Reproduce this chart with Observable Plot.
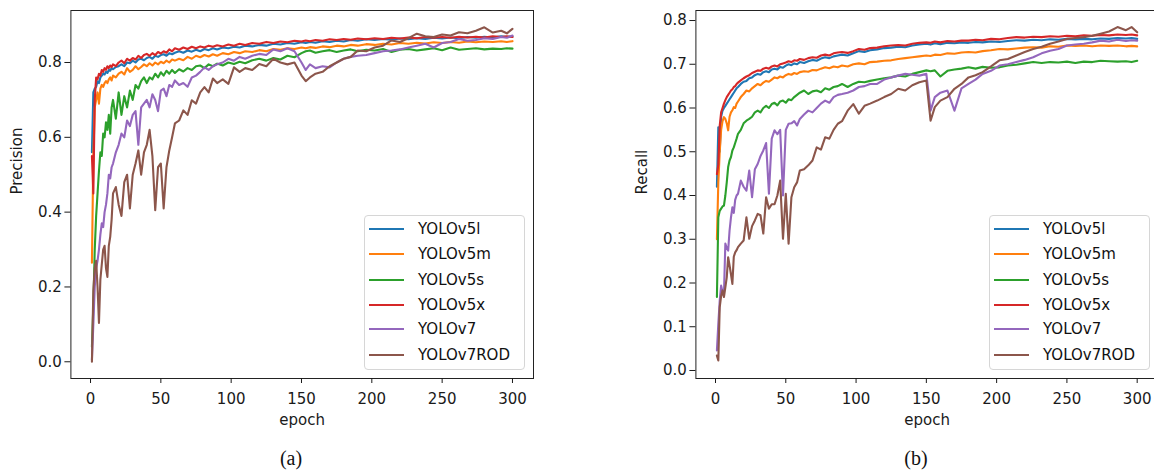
<!DOCTYPE html>
<html><head><meta charset="utf-8">
<script src="https://cdn.jsdelivr.net/npm/d3@7"></script>
<script src="https://cdn.jsdelivr.net/npm/@observablehq/plot@0.6"></script>
<style>
html,body{margin:0;padding:0;background:#fff;}
body{width:1154px;height:473px;overflow:hidden;position:relative;font-family:"DejaVu Sans",sans-serif;}
.panel{position:absolute;top:0;}
.panel svg{max-width:none !important;display:block;}
.legend{position:absolute;border:1px solid #d6d6d6;border-radius:4px;background:rgba(255,255,255,0.85);box-sizing:border-box;}
.row{position:absolute;left:0;height:0;}
.row .sw{position:absolute;left:4px;width:35px;border-top:2px solid;top:-1px;}
.row .lb{position:absolute;left:53px;top:-10px;font-size:15px;line-height:20px;color:#111;white-space:nowrap;}
.cap{position:absolute;font-family:"Liberation Serif",serif;font-size:20px;color:#111;transform:translate(-50%,-50%);}
</style></head>
<body>
<div id="root"></div>
<script>
const names = ["YOLOv5l","YOLOv5m","YOLOv5s","YOLOv5x","YOLOv7","YOLOv7ROD"];
const colors = ["#1f77b4","#ff7f0e","#2ca02c","#d62728","#9467bd","#8c564b"];
const xTicks = [0,50,100,150,200,250,300];
const precisionTicks = [0,0.2,0.4,0.6,0.8];
const recallTicks = [0,0.1,0.2,0.3,0.4,0.5,0.6,0.7,0.8];

const epochs = [1,2,3,4,5,6,7,8,9,10,11,12,13,14,15,16,
 18,20,22,24,26,28,30,32,34,36,38,40,42,44,46,48,50,52,54,56,58,60,
 63,66,69,72,75,78,81,84,87,90,
 94,98,102,106,110,
 115,120,125,130,135,140,145,150,
 153,156,
 160,165,170,175,180,185,190,
 196,202,208,214,220,226,232,238,244,250,256,262,268,274,280,286,292,
 296,300];

// Precision
const precV5l = [0.56,0.72,0.73,0.735,0.75,0.745,0.76,0.765,0.77,0.768,0.775,0.772,0.78,0.778,0.785,0.782,
 0.788,0.79,0.795,0.79,0.80,0.798,0.805,0.80,0.808,0.81,0.806,0.812,0.815,0.81,0.818,0.815,0.82,0.822,0.818,0.825,0.822,0.826,
 0.83,0.826,0.832,0.829,0.834,0.83,0.836,0.833,0.838,0.835,
 0.84,0.838,0.842,0.84,0.845,
 0.843,0.847,0.845,0.85,0.848,0.852,0.85,0.854,
 0.852,0.855,
 0.853,0.857,0.855,0.858,0.856,0.86,0.858,
 0.862,0.86,0.863,0.861,0.864,0.862,0.865,0.863,0.866,0.864,0.867,0.865,0.868,0.866,0.869,0.867,0.87,
 0.868,0.87];
const precV5m = [0.265,0.55,0.68,0.70,0.72,0.69,0.73,0.74,0.735,0.745,0.75,0.745,0.755,0.76,0.752,0.765,
 0.76,0.77,0.775,0.768,0.785,0.775,0.78,0.79,0.782,0.788,0.795,0.79,0.798,0.792,0.80,0.795,0.802,0.798,0.805,0.80,0.808,0.805,
 0.81,0.806,0.815,0.81,0.818,0.814,0.82,0.816,0.822,0.818,
 0.825,0.822,0.828,0.825,0.83,
 0.828,0.833,0.83,0.836,0.834,0.838,0.836,0.84,
 0.838,0.841,
 0.839,0.843,0.841,0.845,0.843,0.847,0.845,
 0.849,0.847,0.85,0.848,0.852,0.85,0.853,0.851,0.854,0.852,0.855,0.853,0.856,0.854,0.856,0.855,0.857,
 0.855,0.857];
const precV5s = [0.04,0.15,0.30,0.39,0.45,0.51,0.56,0.55,0.61,0.60,0.64,0.62,0.66,0.61,0.68,0.70,
 0.65,0.72,0.66,0.71,0.68,0.725,0.70,0.74,0.73,0.75,0.76,0.745,0.76,0.755,0.77,0.76,0.774,0.765,0.778,0.77,0.78,0.772,
 0.782,0.776,0.785,0.78,0.79,0.792,0.785,0.795,0.79,0.797,
 0.792,0.80,0.796,0.802,0.798,
 0.806,0.81,0.805,0.812,0.808,0.818,0.814,0.825,
 0.83,0.832,
 0.826,0.83,0.833,0.828,0.832,0.835,0.83,
 0.834,0.832,0.836,0.828,0.834,0.836,0.832,0.835,0.838,0.833,0.84,0.834,0.836,0.838,0.835,0.837,0.836,
 0.838,0.837];
const precV5x = [0.55,0.45,0.70,0.76,0.755,0.77,0.765,0.78,0.775,0.785,0.78,0.79,0.785,0.792,0.788,0.795,
 0.79,0.80,0.805,0.798,0.81,0.805,0.812,0.808,0.818,0.812,0.82,0.823,0.818,0.825,0.82,0.828,0.824,0.83,0.826,0.835,0.83,0.838,
 0.834,0.84,0.836,0.842,0.838,0.843,0.84,0.845,0.842,0.846,
 0.843,0.848,0.845,0.85,0.847,
 0.852,0.85,0.855,0.852,0.856,0.854,0.858,0.856,
 0.859,0.857,
 0.86,0.858,0.862,0.86,0.863,0.861,0.864,
 0.862,0.865,0.863,0.866,0.864,0.867,0.865,0.868,0.866,0.868,0.866,0.869,0.867,0.869,0.867,0.87,0.868,
 0.87,0.868];
const precV7 = [0.005,0.10,0.20,0.25,0.27,0.30,0.34,0.37,0.36,0.40,0.42,0.45,0.50,0.49,0.52,0.53,
 0.56,0.58,0.61,0.60,0.645,0.63,0.66,0.67,0.58,0.68,0.69,0.70,0.68,0.715,0.70,0.67,0.725,0.73,0.71,0.74,0.735,0.752,
 0.74,0.745,0.735,0.76,0.765,0.775,0.787,0.78,0.79,0.795,
 0.80,0.81,0.805,0.815,0.81,
 0.818,0.823,0.82,0.835,0.83,0.838,0.83,0.80,
 0.78,0.795,
 0.785,0.79,0.787,0.80,0.81,0.815,0.818,
 0.82,0.825,0.83,0.832,0.835,0.84,0.845,0.85,0.84,0.852,0.855,0.863,0.858,0.86,0.865,0.863,0.868,
 0.866,0.872];
const precV7ROD = [0.0,0.19,0.25,0.27,0.20,0.104,0.22,0.26,0.30,0.31,0.25,0.227,0.31,0.334,0.38,0.45,
 0.467,0.42,0.39,0.48,0.50,0.41,0.50,0.53,0.565,0.50,0.56,0.58,0.62,0.55,0.405,0.52,0.53,0.41,0.52,0.565,0.60,0.637,
 0.645,0.672,0.66,0.699,0.69,0.72,0.734,0.72,0.757,0.745,
 0.755,0.743,0.787,0.775,0.785,
 0.78,0.796,0.79,0.81,0.80,0.795,0.80,0.765,
 0.75,0.76,
 0.77,0.775,0.79,0.80,0.81,0.815,0.832,
 0.83,0.84,0.845,0.859,0.855,0.865,0.877,0.87,0.868,0.875,0.872,0.881,0.878,0.885,0.894,0.88,0.885,
 0.878,0.89];

// Recall
const recV5l = [0.42,0.556,0.50,0.58,0.594,0.60,0.605,0.61,0.615,0.62,0.625,0.63,0.635,0.64,0.645,0.648,
 0.655,0.66,0.662,0.668,0.67,0.675,0.678,0.676,0.682,0.684,0.682,0.688,0.69,0.688,0.694,0.692,0.697,0.70,0.698,0.702,0.70,0.705,
 0.703,0.707,0.71,0.708,0.713,0.716,0.714,0.718,0.72,0.722,
 0.72,0.725,0.73,0.728,0.732,
 0.734,0.737,0.738,0.74,0.739,0.743,0.745,0.747,
 0.745,0.748,
 0.746,0.749,0.748,0.75,0.749,0.751,0.75,
 0.752,0.751,0.753,0.755,0.754,0.756,0.755,0.757,0.756,0.758,0.757,0.758,0.757,0.759,0.758,0.76,0.759,
 0.76,0.758];
const recV5m = [0.30,0.43,0.50,0.55,0.57,0.579,0.575,0.565,0.549,0.58,0.59,0.595,0.602,0.60,0.61,0.615,
 0.625,0.632,0.64,0.638,0.645,0.65,0.655,0.652,0.658,0.662,0.66,0.665,0.67,0.668,0.672,0.67,0.675,0.678,0.676,0.68,0.678,0.682,
 0.684,0.683,0.687,0.686,0.69,0.693,0.691,0.695,0.693,0.697,
 0.695,0.70,0.702,0.70,0.705,
 0.706,0.708,0.709,0.712,0.714,0.716,0.718,0.72,
 0.719,0.722,
 0.721,0.725,0.724,0.727,0.728,0.727,0.73,
 0.732,0.735,0.734,0.736,0.738,0.739,0.738,0.741,0.74,0.743,0.742,0.743,0.741,0.743,0.742,0.743,0.741,
 0.742,0.741];
const recV5s = [0.168,0.35,0.365,0.37,0.375,0.377,0.40,0.43,0.465,0.48,0.488,0.503,0.51,0.52,0.53,0.541,
 0.55,0.565,0.571,0.575,0.58,0.59,0.594,0.59,0.60,0.605,0.60,0.609,0.612,0.606,0.615,0.617,0.612,0.62,0.618,0.625,0.63,0.635,
 0.64,0.632,0.638,0.64,0.636,0.645,0.642,0.648,0.65,0.655,
 0.648,0.655,0.66,0.659,0.662,
 0.665,0.668,0.67,0.674,0.672,0.678,0.682,0.686,
 0.684,0.686,
 0.672,0.685,0.688,0.69,0.693,0.69,0.694,
 0.692,0.693,0.697,0.699,0.702,0.705,0.703,0.705,0.704,0.706,0.703,0.706,0.705,0.708,0.707,0.706,0.707,
 0.705,0.708];
const recV5x = [0.449,0.47,0.56,0.59,0.60,0.61,0.618,0.625,0.63,0.635,0.64,0.643,0.648,0.65,0.655,0.658,
 0.663,0.668,0.672,0.675,0.68,0.683,0.686,0.685,0.69,0.692,0.69,0.695,0.697,0.695,0.70,0.702,0.704,0.707,0.705,0.709,0.708,0.712,
 0.71,0.714,0.716,0.715,0.72,0.722,0.72,0.725,0.727,0.728,
 0.726,0.73,0.735,0.733,0.737,
 0.738,0.741,0.743,0.744,0.743,0.747,0.749,0.75,
 0.749,0.752,
 0.75,0.753,0.752,0.754,0.754,0.756,0.755,
 0.758,0.757,0.76,0.762,0.761,0.763,0.762,0.764,0.763,0.765,0.764,0.766,0.765,0.767,0.766,0.768,0.767,
 0.768,0.766];
const recV7 = [0.046,0.107,0.16,0.194,0.18,0.175,0.29,0.28,0.274,0.32,0.35,0.373,0.36,0.39,0.40,0.404,
 0.434,0.42,0.411,0.457,0.396,0.46,0.472,0.49,0.503,0.52,0.404,0.53,0.549,0.54,0.55,0.40,0.55,0.564,0.565,0.57,0.56,0.575,
 0.585,0.594,0.59,0.60,0.61,0.617,0.612,0.625,0.63,0.632,
 0.635,0.64,0.648,0.65,0.655,
 0.655,0.665,0.67,0.674,0.678,0.676,0.674,0.678,
 0.594,0.625,
 0.635,0.64,0.594,0.645,0.655,0.665,0.678,
 0.685,0.697,0.70,0.705,0.71,0.716,0.725,0.731,0.735,0.743,0.745,0.747,0.75,0.754,0.752,0.756,0.753,
 0.755,0.754];
const recV7ROD = [0.034,0.023,0.145,0.17,0.183,0.168,0.19,0.213,0.259,0.24,0.22,0.198,0.26,0.27,0.275,0.282,
 0.29,0.297,0.35,0.301,0.33,0.343,0.358,0.355,0.313,0.396,0.37,0.38,0.38,0.40,0.434,0.301,0.404,0.29,0.396,0.419,0.43,0.457,
 0.46,0.469,0.48,0.51,0.505,0.533,0.53,0.55,0.564,0.57,
 0.594,0.609,0.587,0.605,0.61,
 0.617,0.625,0.632,0.644,0.64,0.652,0.659,0.663,
 0.571,0.602,
 0.617,0.625,0.644,0.655,0.67,0.675,0.682,
 0.695,0.709,0.712,0.72,0.728,0.735,0.74,0.747,0.752,0.758,0.76,0.762,0.765,0.77,0.775,0.785,0.778,
 0.785,0.773];

const precision = [precV5l,precV5m,precV5s,precV5x,precV7,precV7ROD];
const recall = [recV5l,recV5m,recV5s,recV5x,recV7,recV7ROD];
[...precision,...recall].forEach((a,i)=>{ if(a.length!==epochs.length) throw new Error("length mismatch series "+i+": "+a.length+" vs "+epochs.length); });

function toRows(series){
  const rows=[];
  series.forEach((vals,i)=>vals.forEach((v,j)=>rows.push({epoch:epochs[j],value:v,model:names[i]})));
  return rows;
}

function makePanel(series, yDomain, yTicks, yLabel, width, mL, mR){
  return Plot.plot({
    width, height:420, marginLeft:mL, marginRight:mR, marginTop:10, marginBottom:42,
    style:{fontFamily:"DejaVu Sans", fontSize:"15px", color:"#1a1a1a", background:"#fff", overflow:"visible", maxWidth:"none"},
    x:{domain:[-13.95,314.95]},
    y:{domain:yDomain},
    color:{domain:names, range:colors},
    marks:[
      Plot.lineY(toRows(series),{x:"epoch",y:"value",z:"model",stroke:"model",strokeWidth:2.1,strokeLinejoin:"round"}),
      Plot.frame({stroke:"#222",strokeWidth:1}),
      Plot.axisX({ticks:xTicks,tickSize:5,tickPadding:10,label:null,fontSize:15}),
      Plot.axisY({ticks:yTicks,tickSize:6,tickPadding:3,tickFormat:d3.format(".1f"),label:null,fontSize:15}),
      Plot.text([yLabel],{text:d=>d,frameAnchor:"left",dx:-54,rotate:-90,fontSize:15}),
      Plot.text(["epoch"],{text:d=>d,frameAnchor:"bottom",dy:46,fontSize:15})
    ]
  });
}

const root = document.getElementById("root");
function place(el,left,width){ const d=document.createElement("div"); d.className="panel"; d.style.left=left+"px"; d.style.width=width+"px"; d.appendChild(el); root.appendChild(d); }
place(makePanel(precision,[-0.0447,0.939],precisionTicks,"Precision",560,70.4,27),0,560);
place(makePanel(recall,[-0.0183,0.8229],recallTicks,"Recall",600,115.4,22.3),580,600);

function legend(left,top){
  const box=document.createElement("div"); box.className="legend";
  Object.assign(box.style,{left:left+"px",top:top+"px",width:"161px",height:"155px"});
  const rowsY=[13,38,64,89,113,139];
  names.forEach((n,i)=>{
    const r=document.createElement("div"); r.className="row"; r.style.top=rowsY[i]+"px";
    const s=document.createElement("div"); s.className="sw"; s.style.borderTopColor=colors[i];
    const l=document.createElement("div"); l.className="lb"; l.textContent=n;
    r.appendChild(s); r.appendChild(l); box.appendChild(r);
  });
  root.appendChild(box);
}
legend(364,215);
legend(989,215);

function caption(t,x,y){ const c=document.createElement("div"); c.className="cap"; c.textContent=t; c.style.left=x+"px"; c.style.top=y+"px"; root.appendChild(c); }
caption("(a)",291,458);
caption("(b)",916,458);
</script>
</body></html>
